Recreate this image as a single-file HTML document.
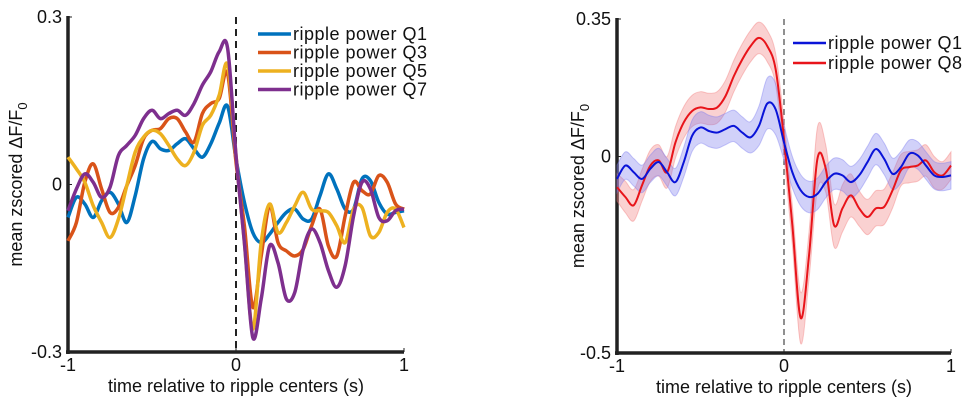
<!DOCTYPE html>
<html><head><meta charset="utf-8"><style>
html,body{margin:0;padding:0;background:#fff;}
svg{display:block;font-family:"Liberation Sans",Arial,sans-serif;}
</style></head><body>
<svg id="fig" width="976" height="410" viewBox="0 0 976 410" xmlns="http://www.w3.org/2000/svg">
<g id="left"></g>
<g id="right"></g>
</svg>
<script>
// ---- data (time grid -1..1 step 0.05) ----
const timeTicks = [-1, 0, 1];
const timeTickLabels = ["-1", "0", "1"];
const leftYTicks = [-0.3, 0, 0.3];
const leftYTickLabels = ["-0.3", "0", "0.3"];
const rightYTicks = [-0.5, 0, 0.35];
const rightYTickLabels = ["-0.5", "0", "0.35"];

const q1Left = [-0.059,-0.023,-0.035,-0.059,-0.029,-0.014,-0.035,-0.068,-0.020,0.046,0.077,0.064,0.061,0.073,0.082,0.064,0.049,0.073,0.110,0.140,0.046,-0.032,-0.086,-0.104,-0.089,-0.068,-0.050,-0.044,-0.062,-0.062,-0.020,0.019,-0.008,-0.044,-0.044,0.010,0.007,-0.032,-0.053,-0.050,-0.047];
const q3Left = [-0.101,-0.068,0.004,0.037,-0.008,-0.050,-0.041,-0.002,0.034,0.082,0.097,0.100,0.118,0.118,0.094,0.076,0.127,0.145,0.154,0.199,0.040,-0.074,-0.220,-0.128,-0.038,-0.104,-0.119,-0.128,-0.116,-0.074,-0.044,-0.110,-0.128,-0.056,0.004,-0.011,-0.017,0.016,0.004,-0.035,-0.044];
const q5Left = [0.049,0.028,0.004,-0.038,-0.068,-0.095,-0.062,-0.002,0.058,0.085,0.097,0.091,0.070,0.046,0.034,0.058,0.106,0.124,0.160,0.214,0.052,-0.104,-0.259,-0.104,-0.035,-0.086,-0.068,-0.038,-0.014,-0.044,-0.047,-0.050,-0.074,-0.104,-0.044,-0.041,-0.092,-0.086,-0.050,-0.044,-0.077];
const q7Left = [-0.047,-0.008,0.019,0.004,-0.023,-0.005,0.052,0.070,0.088,0.118,0.133,0.118,0.127,0.133,0.124,0.145,0.178,0.202,0.238,0.244,0.052,-0.104,-0.274,-0.205,-0.110,-0.140,-0.205,-0.193,-0.116,-0.080,-0.104,-0.154,-0.184,-0.145,-0.056,0.004,-0.008,-0.059,-0.065,-0.047,-0.044];

const q1Right = [-0.057,-0.023,-0.040,-0.057,-0.031,-0.014,-0.040,-0.065,-0.014,0.053,0.074,0.065,0.061,0.070,0.078,0.061,0.049,0.078,0.135,0.120,0.036,-0.040,-0.086,-0.103,-0.095,-0.065,-0.044,-0.048,-0.065,-0.048,-0.014,0.019,-0.006,-0.044,-0.027,0.007,0.003,-0.023,-0.048,-0.052,-0.048];
const q1RightErr = [0.035,0.035,0.035,0.035,0.035,0.035,0.035,0.035,0.038,0.040,0.040,0.040,0.040,0.040,0.040,0.040,0.040,0.050,0.065,0.065,0.045,0.040,0.040,0.040,0.040,0.040,0.040,0.040,0.040,0.040,0.040,0.040,0.040,0.040,0.040,0.035,0.035,0.035,0.035,0.035,0.035];
const q8Right = [-0.078,-0.103,-0.124,-0.073,-0.023,-0.010,-0.040,0.036,0.087,0.116,0.125,0.121,0.125,0.154,0.205,0.247,0.281,0.302,0.281,0.222,0.045,-0.175,-0.411,-0.251,-0.006,-0.031,-0.175,-0.132,-0.099,-0.132,-0.154,-0.132,-0.128,-0.086,-0.035,-0.027,-0.023,-0.010,-0.040,-0.048,-0.023];
const q8RightErr = [0.035,0.040,0.040,0.040,0.040,0.040,0.040,0.040,0.040,0.040,0.040,0.040,0.040,0.040,0.040,0.040,0.040,0.040,0.040,0.040,0.045,0.050,0.065,0.060,0.080,0.060,0.055,0.060,0.055,0.045,0.045,0.045,0.045,0.045,0.040,0.040,0.040,0.040,0.040,0.035,0.035];

const NS = "http://www.w3.org/2000/svg";
function times(n){ const a=[]; for(let i=0;i<n;i++) a.push(-1+2*i/(n-1)); return a; }
function mk(parent, tag, attrs){ const e=document.createElementNS(NS,tag); for(const k in attrs) e.setAttribute(k,attrs[k]); parent.appendChild(e); return e; }
function smoothPath(pts){
  let d = "M"+pts[0][0].toFixed(2)+","+pts[0][1].toFixed(2);
  for(let i=0;i<pts.length-1;i++){
    const p0=pts[Math.max(0,i-1)], p1=pts[i], p2=pts[i+1], p3=pts[Math.min(pts.length-1,i+2)];
    const c1=[p1[0]+(p2[0]-p0[0])/6, p1[1]+(p2[1]-p0[1])/6];
    const c2=[p2[0]-(p3[0]-p1[0])/6, p2[1]-(p3[1]-p1[1])/6];
    d += " C"+c1[0].toFixed(2)+","+c1[1].toFixed(2)+" "+c2[0].toFixed(2)+","+c2[1].toFixed(2)+" "+p2[0].toFixed(2)+","+p2[1].toFixed(2);
  }
  return d;
}
function txt(g, x, y, s, size, anchor, name){
  const t = mk(g,"text",{x:x,y:y,"font-size":size,"text-anchor":anchor||"start",fill:"#111"});
  t.textContent = s;
  
  
  return t;
}

function drawAxes(g, cfg){
  const X = t => cfg.x0 + (t+1)/2*(cfg.x1-cfg.x0);
  const Y = v => cfg.y0 + (cfg.ymax - v)/(cfg.ymax-cfg.ymin)*(cfg.y1-cfg.y0);
  const dl = mk(g,"line",{x1:X(0),x2:X(0),y1:cfg.y0,y2:cfg.y1,stroke:"#222","stroke-width":cfg.dashW,"stroke-dasharray":cfg.dash});
  
  
  const ya = mk(g,"line",{x1:cfg.x0,x2:cfg.x0,y1:cfg.y0-1,y2:cfg.y1+2,stroke:"#222","stroke-width":3.5});
  
  
  const xa = mk(g,"line",{x1:cfg.x0-2,x2:cfg.x1,y1:cfg.y1,y2:cfg.y1,stroke:"#222","stroke-width":3.5});
  
  
  timeTicks.forEach((t,i)=>{
    mk(g,"line",{x1:X(t),x2:X(t),y1:cfg.y1,y2:cfg.y1-4,stroke:"#222","stroke-width":1});
    txt(g, X(t), cfg.y1+19, timeTickLabels[i], 18, "middle", "x-tick-label");
  });
  cfg.yt.forEach((v,i)=>{
    mk(g,"line",{x1:cfg.x0,x2:cfg.x0+4,y1:Y(v),y2:Y(v),stroke:"#222","stroke-width":1});
    txt(g, cfg.x0-6, Y(v)+6, cfg.ytl[i], 18, "end", "y-tick-label");
  });
  txt(g, (cfg.x0+cfg.x1)/2, cfg.y1+40, "time relative to ripple centers (s)", 18, "middle", "x-axis-title");
  const yt = mk(g,"text",{x:0,y:0,"font-size":18,"text-anchor":"middle",fill:"#111",transform:"translate("+cfg.ylabX+","+((cfg.y0+cfg.y1)/2)+") rotate(-90)"});
  yt.innerHTML = 'mean zscored ΔF/F<tspan dy="5" font-size="13">0</tspan>';
  
  
  return {X,Y};
}
function drawLine(g, sc, vals, color, w, name){
  const ts = times(vals.length);
  const p = mk(g,"path",{d:smoothPath(ts.map((t,i)=>[sc.X(t),sc.Y(vals[i])])),fill:"none",stroke:color,"stroke-width":w,"stroke-linejoin":"round"});
  
  
}
function drawBand(g, sc, vals, err, color, name){
  const ts = times(vals.length);
  const up = ts.map((t,i)=>[sc.X(t),sc.Y(vals[i]+err[i])]);
  const lo = ts.map((t,i)=>[sc.X(t),sc.Y(vals[i]-err[i])]).reverse();
  const d = smoothPath(up) + " L" + smoothPath(lo).slice(1) + " Z";
  const p = mk(g,"path",{d:d,fill:color,"fill-opacity":0.35,stroke:color,"stroke-opacity":0.4,"stroke-width":1});
  
  
}
function legend(g, x, y, dy, items){
  items.forEach((it,i)=>{
    const e = mk(g,"g",{});
    
    
    mk(e,"line",{x1:x,x2:x+33,y1:y+i*dy,y2:y+i*dy,stroke:it[1],"stroke-width":it[2]});
    const t = txt(e, x+35, y+i*dy+6, it[0], 18, "start", "legend-label");
    t.setAttribute("letter-spacing","0.5");
  });
}

// left chart
const L = document.getElementById("left");
const sL = drawAxes(L,{x0:68,x1:404,y0:17,y1:352,ymin:-0.3,ymax:0.3,yt:leftYTicks,ytl:leftYTickLabels,ylabX:22,dash:"7,5",dashW:2});
drawLine(L,sL,q1Left,"#0072bd",3.5,"series-q1");
drawLine(L,sL,q3Left,"#d95319",3.5,"series-q3");
drawLine(L,sL,q5Left,"#edb120",3.5,"series-q5");
drawLine(L,sL,q7Left,"#7e2f8e",3.5,"series-q7");
legend(L,258,34,18.5,[["ripple power Q1","#0072bd",3.5],["ripple power Q3","#d95319",3.5],["ripple power Q5","#edb120",3.5],["ripple power Q7","#7e2f8e",3.5]]);

// right chart
const R = document.getElementById("right");
const sR = drawAxes(R,{x0:617,x1:951,y0:19,y1:353,ymin:-0.5,ymax:0.35,yt:rightYTicks,ytl:rightYTickLabels,ylabX:584,dash:"6,4",dashW:1});
drawBand(R,sR,q8Right,q8RightErr,"#f27a7a","band-q8");
drawBand(R,sR,q1Right,q1RightErr,"#7b7bef","band-q1");
drawLine(R,sR,q8Right,"#e8141a",2,"series-q8");
drawLine(R,sR,q1Right,"#0a14d8",2,"series-q1-right");
legend(R,793,43,20,[["ripple power Q1","#0a14d8",2.5],["ripple power Q8","#e8141a",2.5]]);
</script>
</body></html>
